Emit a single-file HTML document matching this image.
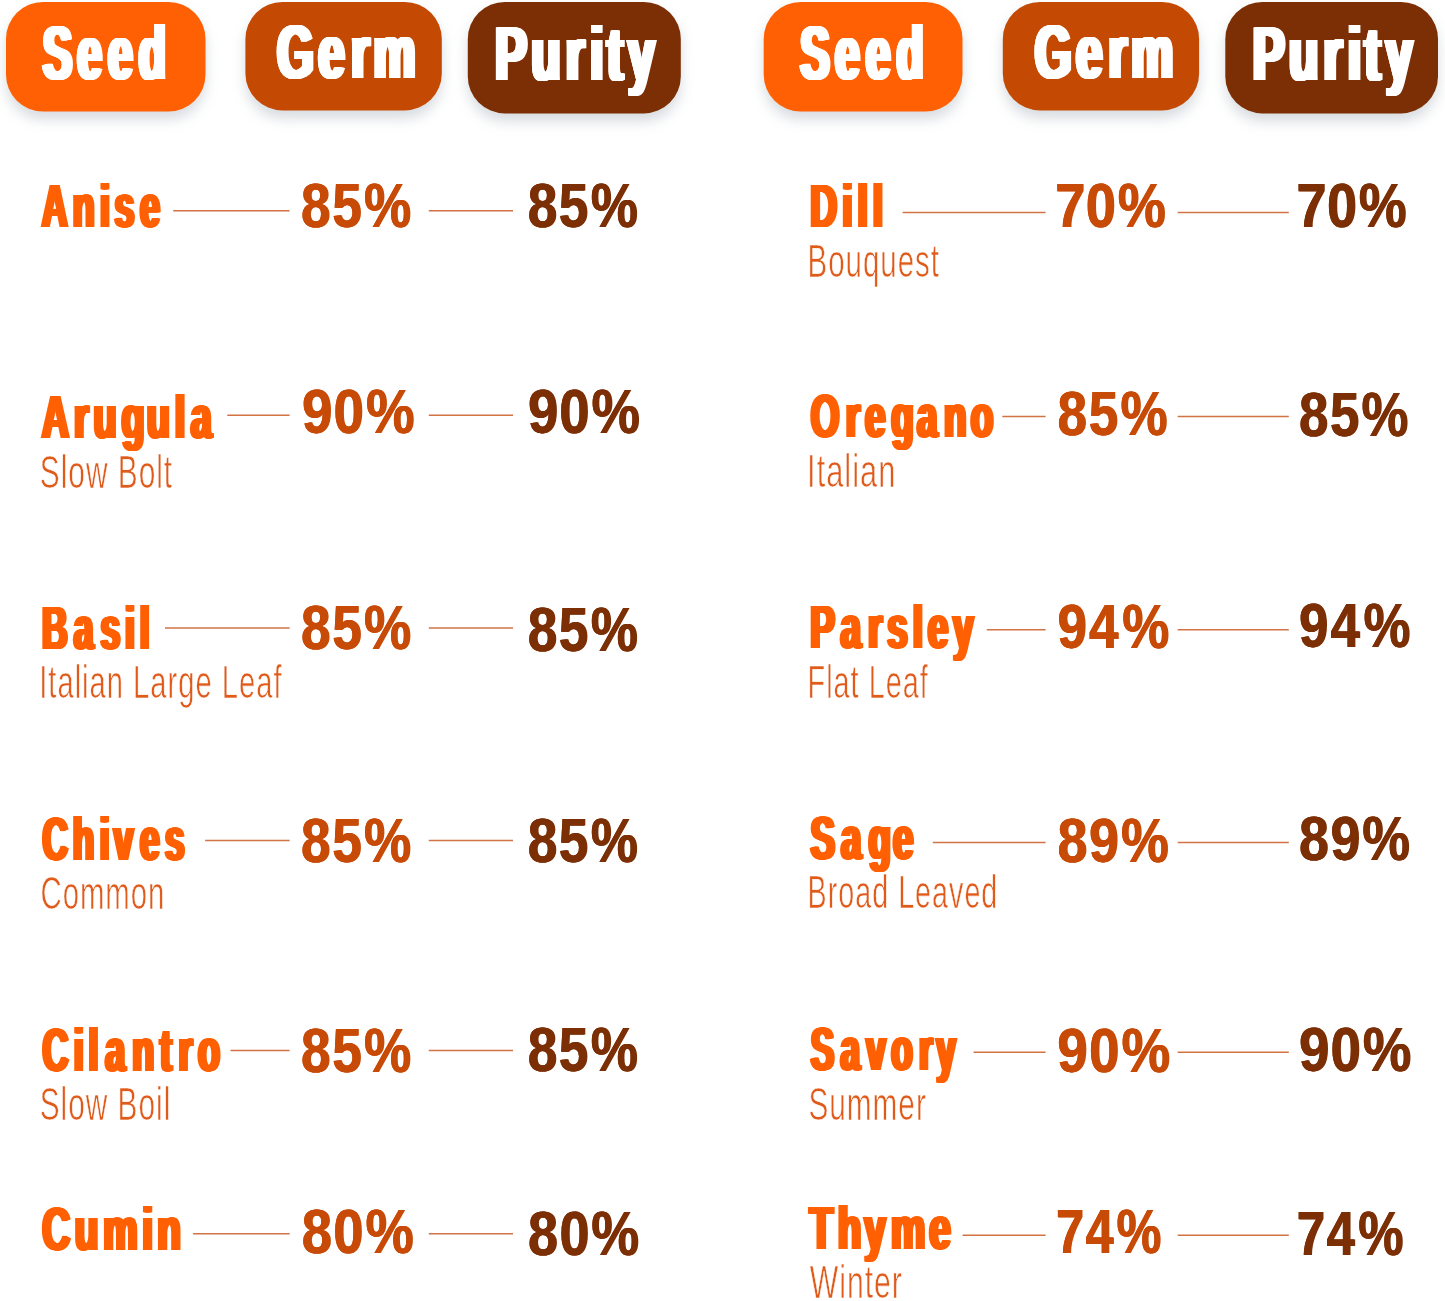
<!DOCTYPE html>
<html lang="en">
<head>
<meta charset="utf-8">
<title>Seed Germ Purity</title>
<style>
html,body{margin:0;padding:0;background:#fff;}
body{width:1445px;height:1301px;overflow:hidden;font-family:"Liberation Sans",sans-serif;}
svg{display:block;}
text{font-family:"Liberation Sans",sans-serif;}
.b{font-weight:700;}
.s{font-weight:400;}
</style>
</head>
<body>
<svg width="1445" height="1301" viewBox="0 0 1445 1301">
<defs>
<filter id="thickB" x="0" y="0" width="1445" height="1301" filterUnits="userSpaceOnUse" color-interpolation-filters="sRGB"><feOffset in="SourceGraphic" dx="-1.70" dy="0" result="o0"/><feOffset in="SourceGraphic" dx="-1.21" dy="0" result="o1"/><feOffset in="SourceGraphic" dx="-0.73" dy="0" result="o2"/><feOffset in="SourceGraphic" dx="-0.24" dy="0" result="o3"/><feOffset in="SourceGraphic" dx="0.24" dy="0" result="o4"/><feOffset in="SourceGraphic" dx="0.73" dy="0" result="o5"/><feOffset in="SourceGraphic" dx="1.21" dy="0" result="o6"/><feOffset in="SourceGraphic" dx="1.70" dy="0" result="o7"/><feMerge><feMergeNode in="o0"/><feMergeNode in="o1"/><feMergeNode in="o2"/><feMergeNode in="o3"/><feMergeNode in="o4"/><feMergeNode in="o5"/><feMergeNode in="o6"/><feMergeNode in="o7"/></feMerge></filter>
<filter id="thickP" x="0" y="0" width="1445" height="1301" filterUnits="userSpaceOnUse" color-interpolation-filters="sRGB"><feOffset in="SourceGraphic" dx="-2.50" dy="0" result="o0"/><feOffset in="SourceGraphic" dx="-2.00" dy="0" result="o1"/><feOffset in="SourceGraphic" dx="-1.50" dy="0" result="o2"/><feOffset in="SourceGraphic" dx="-1.00" dy="0" result="o3"/><feOffset in="SourceGraphic" dx="-0.50" dy="0" result="o4"/><feOffset in="SourceGraphic" dx="0.00" dy="0" result="o5"/><feOffset in="SourceGraphic" dx="0.50" dy="0" result="o6"/><feOffset in="SourceGraphic" dx="1.00" dy="0" result="o7"/><feOffset in="SourceGraphic" dx="1.50" dy="0" result="o8"/><feOffset in="SourceGraphic" dx="2.00" dy="0" result="o9"/><feOffset in="SourceGraphic" dx="2.50" dy="0" result="o10"/><feMerge><feMergeNode in="o0"/><feMergeNode in="o1"/><feMergeNode in="o2"/><feMergeNode in="o3"/><feMergeNode in="o4"/><feMergeNode in="o5"/><feMergeNode in="o6"/><feMergeNode in="o7"/><feMergeNode in="o8"/><feMergeNode in="o9"/><feMergeNode in="o10"/></feMerge></filter>
<filter id="thickN" x="0" y="0" width="1445" height="1301" filterUnits="userSpaceOnUse" color-interpolation-filters="sRGB"><feOffset in="SourceGraphic" dx="-0.50" dy="0" result="o0"/><feOffset in="SourceGraphic" dx="0.00" dy="0" result="o1"/><feOffset in="SourceGraphic" dx="0.50" dy="0" result="o2"/><feMerge><feMergeNode in="o0"/><feMergeNode in="o1"/><feMergeNode in="o2"/></feMerge></filter>
<filter id="sh" x="-10%" y="-20%" width="120%" height="150%" color-interpolation-filters="sRGB"><feDropShadow dx="0" dy="8" stdDeviation="6.5" flood-color="#3d4f63" flood-opacity="0.2"/></filter>
</defs>
<!-- header pills -->
<g filter="url(#sh)">
<rect x="6.0" y="2.0" width="199.5" height="109.6" rx="37" ry="37" fill="#FF6003"/>
<rect x="245.4" y="2.0" width="196.4" height="108.4" rx="37" ry="37" fill="#C44A04"/>
<rect x="467.8" y="2.0" width="213.0" height="111.4" rx="37" ry="37" fill="#7C2F05"/>
<rect x="763.7" y="2.0" width="198.8" height="109.6" rx="37" ry="37" fill="#FF6003"/>
<rect x="1002.8" y="2.0" width="196.3" height="108.4" rx="37" ry="37" fill="#C44A04"/>
<rect x="1225.3" y="2.0" width="212.7" height="111.4" rx="37" ry="37" fill="#7C2F05"/>
</g>
<g class="b" font-size="78.5" fill="#fff" filter="url(#thickP)">
<text transform="translate(0 79.00) scale(0.5713 1)" font-size="76.5" x="74.3 134.8 188.7 242.5">Seed</text>
<text transform="translate(0 78.40) scale(0.6132 1)" font-size="76.5" x="451.3 518.8 571.9 608.7">Germ</text>
<text transform="translate(0 79.60) scale(0.6221 1)" font-size="76.5" x="795.5 853.6 909.0 948.1 975.2 1009.2">Purity</text>
<text transform="translate(0 79.00) scale(0.5713 1)" font-size="76.5" x="1400.5 1461.1 1514.9 1568.8">Seed</text>
<text transform="translate(0 78.40) scale(0.6132 1)" font-size="76.5" x="1686.9 1754.4 1807.5 1844.3">Germ</text>
<text transform="translate(0 79.60) scale(0.6221 1)" font-size="76.5" x="2013.4 2071.5 2126.9 2166.0 2193.0 2227.1">Purity</text>
</g>
<!-- connector lines -->
<g stroke="#D27345" stroke-width="1.5">
<line x1="173.2" y1="210.8" x2="289.6" y2="210.8"/>
<line x1="428.8" y1="210.8" x2="513.0" y2="210.8"/>
<line x1="227.3" y1="415.3" x2="289.6" y2="415.3"/>
<line x1="428.8" y1="415.3" x2="513.0" y2="415.3"/>
<line x1="165.0" y1="628.1" x2="289.6" y2="628.1"/>
<line x1="428.8" y1="628.1" x2="513.0" y2="628.1"/>
<line x1="205.1" y1="840.6" x2="289.6" y2="840.6"/>
<line x1="428.8" y1="840.6" x2="513.0" y2="840.6"/>
<line x1="230.5" y1="1050.6" x2="289.6" y2="1050.6"/>
<line x1="428.8" y1="1050.6" x2="513.0" y2="1050.6"/>
<line x1="193.1" y1="1233.7" x2="289.6" y2="1233.7"/>
<line x1="428.8" y1="1233.7" x2="513.0" y2="1233.7"/>
<line x1="902.6" y1="212.6" x2="1045.6" y2="212.6"/>
<line x1="1177.7" y1="212.6" x2="1288.8" y2="212.6"/>
<line x1="1002.3" y1="416.6" x2="1045.6" y2="416.6"/>
<line x1="1177.7" y1="416.6" x2="1288.8" y2="416.6"/>
<line x1="986.8" y1="629.8" x2="1045.6" y2="629.8"/>
<line x1="1177.7" y1="629.8" x2="1288.8" y2="629.8"/>
<line x1="932.8" y1="842.6" x2="1045.6" y2="842.6"/>
<line x1="1177.7" y1="842.6" x2="1288.8" y2="842.6"/>
<line x1="973.6" y1="1052.3" x2="1045.6" y2="1052.3"/>
<line x1="1177.7" y1="1052.3" x2="1288.8" y2="1052.3"/>
<line x1="962.6" y1="1235.2" x2="1045.6" y2="1235.2"/>
<line x1="1177.7" y1="1235.2" x2="1288.8" y2="1235.2"/>
</g>
<!-- seed names -->
<g class="b" font-size="63" fill="#FF6003" filter="url(#thickB)">
<text transform="translate(0 227.20) scale(0.5836 1)" font-size="61.4" x="71.6 124.7 171.3 196.1 239.9">Anise</text>
<text transform="translate(0 438.40) scale(0.6153 1)" font-size="61.4" x="67.9 120.4 152.1 197.4 238.5 284.0 310.0">Arugula</text>
<text transform="translate(0 649.20) scale(0.5785 1)" font-size="61.4" x="72.8 127.3 173.7 216.3 241.6">Basil</text>
<text transform="translate(0 859.90) scale(0.5725 1)" font-size="61.4" x="74.2 127.0 174.4 198.7 244.6 288.2">Chives</text>
<text transform="translate(0 1071.10) scale(0.5852 1)" font-size="61.4" x="72.7 125.9 151.3 179.7 225.9 273.6 305.2 338.4">Cilantro</text>
<text transform="translate(0 1249.60) scale(0.6305 1)" font-size="61.4" x="67.1 118.7 163.7 225.7 249.4">Cumin</text>
<text transform="translate(0 226.70) scale(0.6055 1)" font-size="61.4" x="1338.1 1391.1 1416.3 1441.3">Dill</text>
<text transform="translate(0 437.40) scale(0.5999 1)" font-size="61.4" x="1351.4 1409.9 1442.0 1485.5 1528.5 1573.6 1618.2">Oregano</text>
<text transform="translate(0 648.40) scale(0.6000 1)" font-size="61.4" x="1350.4 1401.0 1446.7 1478.9 1521.2 1546.2 1588.3">Parsley</text>
<text transform="translate(0 859.20) scale(0.5978 1)" font-size="61.4" x="1355.9 1407.0 1452.9 1493.9">Sage</text>
<text transform="translate(0 1069.90) scale(0.5709 1)" font-size="61.4" x="1420.1 1472.2 1517.2 1561.2 1609.8 1640.1">Savory</text>
<text transform="translate(0 1248.80) scale(0.6285 1)" font-size="61.4" x="1287.9 1332.8 1375.2 1417.8 1478.6">Thyme</text>
</g>
<!-- germination / purity percentages -->
<g class="b" font-size="63" filter="url(#thickN)">
<g fill="#C84A07">
<text transform="translate(0 227.20) scale(0.8388 1)" x="358.5 395.7 433.7">85%</text>
<text transform="translate(0 432.90) scale(0.8638 1)" x="349.4 385.8 423.3">90%</text>
<text transform="translate(0 649.20) scale(0.8388 1)" x="358.5 395.7 433.7">85%</text>
<text transform="translate(0 862.40) scale(0.8388 1)" x="358.5 395.7 433.7">85%</text>
<text transform="translate(0 1072.10) scale(0.8388 1)" x="358.5 395.7 433.7">85%</text>
<text transform="translate(0 1253.10) scale(0.8587 1)" x="351.1 387.9 425.3">80%</text>
<text transform="translate(0 227.20) scale(0.8554 1)" x="1233.3 1269.1 1306.4">70%</text>
<text transform="translate(0 434.70) scale(0.8375 1)" x="1262.5 1299.6 1337.6">85%</text>
<text transform="translate(0 647.90) scale(0.8363 1)" x="1264.1 1302.0 1341.7">94%</text>
<text transform="translate(0 861.60) scale(0.8507 1)" x="1242.9 1279.9 1317.5">89%</text>
<text transform="translate(0 1071.60) scale(0.8664 1)" x="1220.1 1256.6 1294.1">90%</text>
<text transform="translate(0 1253.10) scale(0.7969 1)" x="1324.8 1361.7 1400.7">74%</text>
</g>
<g fill="#7C2F05">
<text transform="translate(0 227.20) scale(0.8388 1)" x="628.8 665.9 704.0">85%</text>
<text transform="translate(0 432.90) scale(0.8611 1)" x="612.8 649.2 686.6">90%</text>
<text transform="translate(0 650.90) scale(0.8388 1)" x="628.8 665.9 704.0">85%</text>
<text transform="translate(0 861.60) scale(0.8388 1)" x="628.8 665.9 704.0">85%</text>
<text transform="translate(0 1070.90) scale(0.8388 1)" x="628.8 665.9 704.0">85%</text>
<text transform="translate(0 1254.60) scale(0.8521 1)" x="619.5 656.2 693.6">80%</text>
<text transform="translate(0 227.20) scale(0.8521 1)" x="1521.3 1557.1 1594.3">70%</text>
<text transform="translate(0 436.20) scale(0.8335 1)" x="1558.2 1595.3 1633.3">85%</text>
<text transform="translate(0 647.20) scale(0.8343 1)" x="1556.6 1594.5 1634.1">94%</text>
<text transform="translate(0 860.40) scale(0.8487 1)" x="1530.4 1567.4 1604.9">89%</text>
<text transform="translate(0 1071.10) scale(0.8638 1)" x="1503.4 1539.9 1577.3">90%</text>
<text transform="translate(0 1254.60) scale(0.8054 1)" x="1609.7 1646.8 1686.0">74%</text>
</g>
</g>
<!-- variety subtitles -->
<g class="s" font-size="46.2" fill="#E05A1A" stroke="#fff" stroke-width="0.7">
<text transform="translate(39.75 487.60) scale(0.6463 1)" letter-spacing="1.55">Slow Bolt</text>
<text transform="translate(39.22 698.30) scale(0.6313 1)" letter-spacing="1.58">Italian Large Leaf</text>
<text transform="translate(40.47 909.10) scale(0.6343 1)" letter-spacing="1.58">Common</text>
<text transform="translate(39.75 1120.10) scale(0.6450 1)" letter-spacing="1.55">Slow Boil</text>
<text transform="translate(807.51 277.10) scale(0.6377 1)" letter-spacing="1.57">Bouquest</text>
<text transform="translate(807.06 486.60) scale(0.6681 1)" letter-spacing="1.50">Italian</text>
<text transform="translate(807.56 697.80) scale(0.6244 1)" letter-spacing="1.60">Flat Leaf</text>
<text transform="translate(807.57 908.30) scale(0.6214 1)" letter-spacing="1.61">Broad Leaved</text>
<text transform="translate(808.45 1119.60) scale(0.6437 1)" letter-spacing="1.55">Summer</text>
<text transform="translate(809.74 1298.00) scale(0.6528 1)" letter-spacing="1.53">Winter</text>
</g>
</svg>
</body>
</html>
